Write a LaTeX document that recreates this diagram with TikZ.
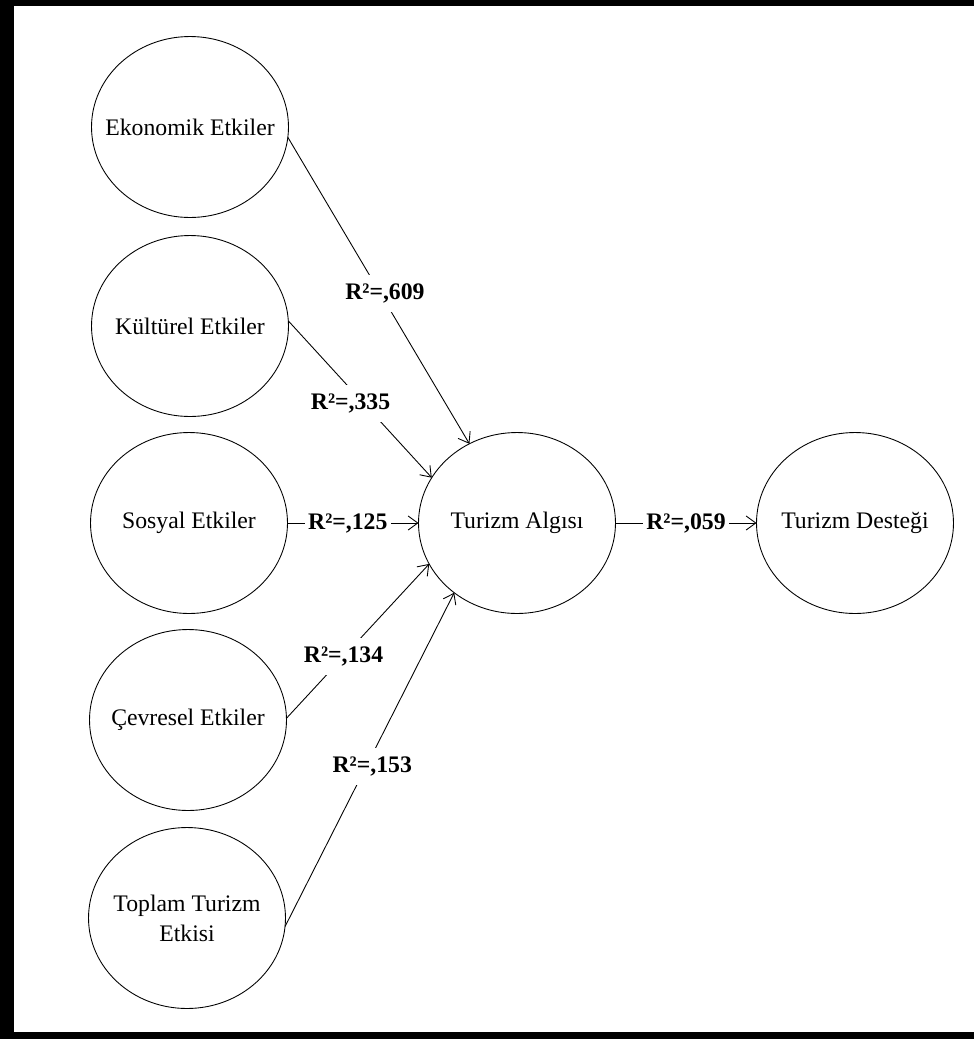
\documentclass[tikz,border=0pt]{standalone}
\usepackage{fontspec}
\setmainfont{Liberation Serif}
\usetikzlibrary{shapes.geometric,arrows.meta}
\tikzset{
	konstrukt/.style={draw, ellipse, line width=0.5pt, minimum width=3.94cm, minimum height=3.62cm, inner xsep=-10pt, inner ysep=0pt, outer sep=0pt, align=center, font=\fontsize{13.5}{17}\selectfont},
	etiket/.style={fill=white, inner xsep=2pt, inner ysep=5pt, font=\fontsize{13.5}{17}\selectfont\bfseries},
	ok/.style={-{Straight Barb[length=5.5pt,width=8pt]}, line width=0.5pt}
}
\begin{document}
\begin{tikzpicture}[x=0.02cm, y=-0.02cm]
		\useasboundingbox (0,0) rectangle (974,1039);
		% Rahmen
		\fill[black] (0,0) rectangle (14,1039);
		\fill[black] (0,0) rectangle (974,6);
		\fill[black] (0,1032) rectangle (974,1039);
		% Etkiler (links)
		\node[konstrukt] (eko) at (190,127) {Ekonomik Etkiler};
		\node[konstrukt] (kul) at (190,326) {Kültürel Etkiler};
		\node[konstrukt] (sos) at (189,523) {Sosyal Etkiler};
		\node[konstrukt] (cev) at (188,720) {Çevresel Etkiler};
		\node[konstrukt] (top) at (187,918) {Toplam Turizm\\Etkisi};
		% Algı und Destek
		\node[konstrukt] (alg) at (517,523) {Turizm Algısı};
		\node[konstrukt] (des) at (855,523) {Turizm Desteği};
		% Pfade
		\draw[ok] (eko.-6) -- node[etiket, pos=.51, xshift=0.09cm] {R²=,609} (alg.121);
		\draw[ok] (kul.3) -- node[etiket, pos=.5, xshift=-0.19cm, yshift=-0.08cm] {R²=,335} (alg.152);
		\draw[ok] (sos.east) -- node[etiket, pos=.46] {R²=,125} (alg.west);
		\draw[ok] (cev.1) -- node[etiket, pos=.4] {R²=,134} (alg.205);
		\draw[ok] (top.-5) -- node[etiket, pos=.48, xshift=0.12cm] {R²=,153} (alg.228);
		\draw[ok] (alg.east) -- node[etiket, pos=.5] {R²=,059} (des.west);
	\end{tikzpicture}
\end{document}
